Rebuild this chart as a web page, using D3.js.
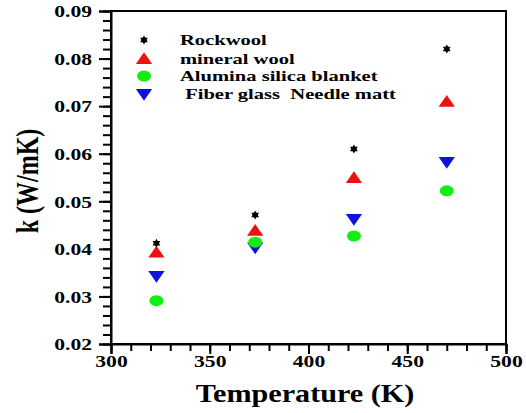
<!DOCTYPE html>
<html>
<head>
<meta charset="utf-8">
<script src="https://cdn.jsdelivr.net/npm/d3@7"></script>
<style>
  body { margin: 0; background: #fff; }
  svg text { font-family: "Liberation Serif", "Times New Roman", serif !important; font-weight: bold; fill: #000; }
</style>
</head>
<body>
<svg id="chart" width="526" height="413"></svg>
<script>
// temperatures (K)
const temps = [323, 373, 423, 470];

const rockwool = [0.0412, 0.0471, 0.061, 0.082];
const mineralWool = [0.0392, 0.0438, 0.0549, 0.0709];
const aluminaSilica = [0.0291, 0.0414, 0.0427, 0.0522];
const fiberGlass = [0.0343, 0.0403, 0.0463, 0.0583];

const seriesNames = ['Rockwool', 'mineral wool', 'Alumina silica blanket', ' Fiber glass  Needle matt'];
const seriesValues = [rockwool, mineralWool, aluminaSilica, fiberGlass];
const seriesColors = ['#000000', '#ee1111', '#11ee11', '#1111dd'];
const seriesShapes = ['star', 'triangle', 'ellipse', 'triangleDown'];

const xTicks = [300, 350, 400, 450, 500];
const yTicks = [0.02, 0.03, 0.04, 0.05, 0.06, 0.07, 0.08, 0.09];

const margin = { left: 111, top: 11, right: 20, bottom: 69 };
const width = 526, height = 413;
// the original figure is wider than tall in its lettering
const stretch = 1.35;

const svg = d3.select('#chart');

const x = d3.scaleLinear().domain([300, 500]).range([margin.left, width - margin.right]);
const y = d3.scaleLinear().domain([0.02, 0.09]).range([height - margin.bottom, margin.top]);

function widen(sel, factor) {
    sel.each(function () {
        const w = this.getComputedTextLength();
        d3.select(this).attr('textLength', w * factor).attr('lengthAdjust', 'spacingAndGlyphs');
    });
}

// frame
svg.append('rect')
    .attr('x', x(300)).attr('y', y(0.09))
    .attr('width', x(500) - x(300)).attr('height', y(0.02) - y(0.09))
    .attr('fill', 'none').attr('stroke', '#000').attr('stroke-width', 2);

// minor ticks
const xAxisMinor = d3.axisBottom(x).tickValues(d3.range(300, 501, 10)).tickSize(7).tickFormat('');
const yAxisMinor = d3.axisLeft(y).tickValues(d3.range(0, 36).map(i => 0.02 + i * 0.002)).tickSize(8).tickFormat('');

svg.append('g').attr('transform', `translate(0,${y(0.02)})`).call(xAxisMinor)
    .call(g => g.select('.domain').remove())
    .selectAll('line').attr('stroke-width', 2);
svg.append('g').attr('transform', `translate(${x(300)},0)`).call(yAxisMinor)
    .call(g => g.select('.domain').remove())
    .selectAll('line').attr('stroke-width', 2);

// major ticks
const xAxis = d3.axisBottom(x).tickValues(xTicks).tickSize(10).tickPadding(2).tickFormat(d3.format('d'));
const yAxis = d3.axisLeft(y).tickValues(yTicks).tickSize(12).tickPadding(7).tickFormat(d3.format('.2f'));

svg.append('g').attr('transform', `translate(0,${y(0.02)})`).call(xAxis)
    .attr('font-family', 'Liberation Serif')
    .call(g => g.select('.domain').attr('stroke-width', 2))
    .call(g => g.selectAll('line').attr('stroke-width', 2))
    .call(g => g.selectAll('text').attr('font-size', 16).call(widen, stretch));
svg.append('g').attr('transform', `translate(${x(300)},0)`).call(yAxis)
    .attr('font-family', 'Liberation Serif')
    .call(g => g.select('.domain').attr('stroke-width', 2))
    .call(g => g.selectAll('line').attr('stroke-width', 2))
    .call(g => g.selectAll('text').attr('font-size', 16).attr('dy', '0.36em').call(widen, stretch));

// axis titles
svg.append('text')
    .attr('x', 305).attr('y', 402)
    .attr('text-anchor', 'middle').attr('font-size', 26)
    .text('Temperature (K)')
    .call(widen, 1.16);

svg.append('text')
    .attr('transform', 'translate(38,181) scale(1.3,1) rotate(-90)')
    .attr('text-anchor', 'middle').attr('font-size', 24)
    .text('k (W/mK)');

// marker drawing
function drawMarker(g, shape, color) {
    if (shape === 'star') {
        g.append('path').attr('d', d3.symbol(d3.symbolTriangle, 26)())
            .attr('fill', color);
        g.append('path').attr('d', d3.symbol(d3.symbolTriangle, 26)())
            .attr('transform', 'rotate(180)').attr('fill', color);
    } else if (shape === 'triangle') {
        g.append('path').attr('d', d3.symbol(d3.symbolTriangle, 80)())
            .attr('transform', 'translate(0,1) scale(1.2,1)').attr('fill', color);
    } else if (shape === 'triangleDown') {
        g.append('path').attr('d', d3.symbol(d3.symbolTriangle, 80)())
            .attr('transform', 'translate(0,-1) scale(1.2,1) rotate(180)').attr('fill', color);
    } else {
        g.append('ellipse').attr('rx', 7).attr('ry', 5.5).attr('fill', color);
    }
}

// points (draw order so overlaps look like reference)
const drawOrder = [3, 2, 1, 0];
drawOrder.forEach(si => {
    seriesValues[si].forEach((v, i) => {
        const g = svg.append('g').attr('transform', `translate(${x(temps[i])},${y(v)})`);
        drawMarker(g, seriesShapes[si], seriesColors[si]);
    });
});

// legend
const legendY = [40, 59, 76, 94];
seriesNames.forEach((name, i) => {
    const g = svg.append('g').attr('transform', `translate(144,${legendY[i]})`);
    drawMarker(g, seriesShapes[i], seriesColors[i]);
    svg.append('text')
        .attr('x', 180).attr('y', legendY[i] + 5)
        .attr('font-size', 15)
        .attr('xml:space', 'preserve')
        .style('white-space', 'pre')
        .text(name)
        .call(widen, 1.37);
});
</script>
</body>
</html>
